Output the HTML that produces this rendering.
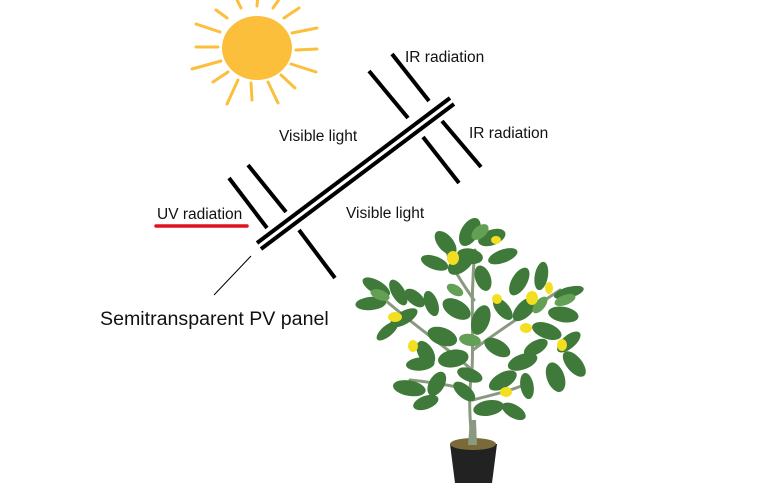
<!DOCTYPE html>
<html><head><meta charset="utf-8"><style>
html,body{margin:0;padding:0;background:#fff;width:784px;height:483px;overflow:hidden}
svg text{font-family:"Liberation Sans",Arial,sans-serif;fill:#111}
</style></head><body>
<svg width="784" height="483" viewBox="0 0 784 483" xmlns="http://www.w3.org/2000/svg">
<!-- sun -->
<g stroke="#fbbf3c" stroke-width="3" stroke-linecap="round" fill="none">
<line x1="257" y1="6" x2="258" y2="-6"/>
<line x1="273" y1="8" x2="280" y2="-2"/>
<line x1="241" y1="8" x2="236" y2="-2"/>
<line x1="284" y1="18" x2="299" y2="8"/>
<line x1="227" y1="18" x2="216" y2="10"/>
<line x1="292" y1="33" x2="317" y2="28"/>
<line x1="220" y1="32" x2="196" y2="24"/>
<line x1="296" y1="50" x2="317" y2="49"/>
<line x1="218" y1="47" x2="196" y2="47"/>
<line x1="291" y1="64" x2="316" y2="72"/>
<line x1="221" y1="61" x2="192" y2="69"/>
<line x1="281" y1="75" x2="295" y2="88"/>
<line x1="228" y1="72" x2="213" y2="82"/>
<line x1="268" y1="82" x2="278" y2="103"/>
<line x1="251" y1="83" x2="252" y2="100"/>
<line x1="238" y1="80" x2="227" y2="104"/>
</g>
<ellipse cx="257" cy="48" rx="35" ry="32" fill="#fbbf3c"/>
<!-- panel -->
<g stroke="#000" stroke-width="4" stroke-linecap="butt">
<line x1="257" y1="243" x2="450" y2="98"/>
<line x1="261" y1="249" x2="454" y2="104"/>
<line x1="229" y1="178" x2="267" y2="228"/>
<line x1="248" y1="165" x2="286" y2="212"/>
<line x1="299" y1="230" x2="335" y2="278"/>
<line x1="369" y1="71" x2="408" y2="118"/>
<line x1="392" y1="54" x2="429" y2="101"/>
<line x1="442" y1="121" x2="481" y2="167"/>
<line x1="423" y1="137" x2="459" y2="183"/>
</g>
<line x1="251" y1="256" x2="214" y2="295" stroke="#000" stroke-width="1"/>
<line x1="156" y1="226" x2="247" y2="226" stroke="#e0141e" stroke-width="3.5" stroke-linecap="round"/>
<text x="405" y="62" font-size="15.5">IR radiation</text>
<text x="469" y="138" font-size="15.5">IR radiation</text>
<text x="279" y="141" font-size="15.5">Visible light</text>
<text x="346" y="218" font-size="15.5">Visible light</text>
<text x="157" y="219" font-size="15.5">UV radiation</text>
<text x="100" y="325" font-size="19.6">Semitransparent PV panel</text>
<!-- plant -->
<g stroke="#8a9a80" stroke-width="3" fill="none" stroke-linecap="round">
<path d="M472 445 C470 420 468 395 472 370 C474 330 470 300 475 250"/>
<path d="M472 370 C450 350 420 330 385 300"/>
<path d="M473 350 C500 330 530 310 560 290"/>
<path d="M474 300 C460 280 450 265 445 245"/>
<path d="M470 390 C450 385 430 382 410 380"/>
<path d="M473 400 C490 395 510 392 530 382"/>
</g>
<g fill="#3f7a3a" transform="translate(472 320) scale(1.1) translate(-472 -320)">
<ellipse cx="470" cy="240" rx="14" ry="8" transform="rotate(-60 470 240)"/>
<ellipse cx="490" cy="245" rx="13" ry="7" transform="rotate(-20 490 245)"/>
<ellipse cx="448" cy="250" rx="13" ry="7" transform="rotate(50 448 250)"/>
<ellipse cx="438" cy="268" rx="13" ry="6" transform="rotate(20 438 268)"/>
<ellipse cx="462" cy="268" rx="14" ry="8" transform="rotate(-40 462 268)"/>
<ellipse cx="500" cy="262" rx="14" ry="6" transform="rotate(-20 500 262)"/>
<ellipse cx="482" cy="282" rx="12" ry="7" transform="rotate(70 482 282)"/>
<ellipse cx="385" cy="290" rx="14" ry="6" transform="rotate(30 385 290)"/>
<ellipse cx="405" cy="295" rx="13" ry="6" transform="rotate(60 405 295)"/>
<ellipse cx="380" cy="305" rx="14" ry="6" transform="rotate(-5 380 305)"/>
<ellipse cx="410" cy="318" rx="14" ry="6" transform="rotate(-30 410 318)"/>
<ellipse cx="395" cy="330" rx="12" ry="5" transform="rotate(-40 395 330)"/>
<ellipse cx="435" cy="305" rx="12" ry="6" transform="rotate(70 435 305)"/>
<ellipse cx="458" cy="310" rx="14" ry="8" transform="rotate(30 458 310)"/>
<ellipse cx="480" cy="320" rx="14" ry="8" transform="rotate(-70 480 320)"/>
<ellipse cx="445" cy="335" rx="14" ry="8" transform="rotate(20 445 335)"/>
<ellipse cx="430" cy="350" rx="12" ry="7" transform="rotate(60 430 350)"/>
<ellipse cx="455" cy="355" rx="14" ry="8" transform="rotate(-10 455 355)"/>
<ellipse cx="515" cy="285" rx="14" ry="7" transform="rotate(-60 515 285)"/>
<ellipse cx="535" cy="280" rx="13" ry="6" transform="rotate(-80 535 280)"/>
<ellipse cx="560" cy="295" rx="14" ry="5" transform="rotate(-15 560 295)"/>
<ellipse cx="555" cy="315" rx="14" ry="7" transform="rotate(10 555 315)"/>
<ellipse cx="520" cy="310" rx="14" ry="7" transform="rotate(-45 520 310)"/>
<ellipse cx="500" cy="310" rx="12" ry="6" transform="rotate(50 500 310)"/>
<ellipse cx="540" cy="330" rx="14" ry="7" transform="rotate(20 540 330)"/>
<ellipse cx="560" cy="340" rx="13" ry="6" transform="rotate(-40 560 340)"/>
<ellipse cx="565" cy="360" rx="14" ry="7" transform="rotate(50 565 360)"/>
<ellipse cx="548" cy="372" rx="14" ry="8" transform="rotate(70 548 372)"/>
<ellipse cx="518" cy="358" rx="14" ry="7" transform="rotate(-20 518 358)"/>
<ellipse cx="495" cy="345" rx="13" ry="7" transform="rotate(30 495 345)"/>
<ellipse cx="500" cy="375" rx="14" ry="7" transform="rotate(-30 500 375)"/>
<ellipse cx="522" cy="380" rx="12" ry="6" transform="rotate(80 522 380)"/>
<ellipse cx="415" cy="382" rx="15" ry="7" transform="rotate(10 415 382)"/>
<ellipse cx="440" cy="378" rx="12" ry="7" transform="rotate(-60 440 378)"/>
<ellipse cx="430" cy="395" rx="12" ry="6" transform="rotate(-20 430 395)"/>
<ellipse cx="487" cy="400" rx="14" ry="7" transform="rotate(-10 487 400)"/>
<ellipse cx="510" cy="403" rx="12" ry="6" transform="rotate(30 510 403)"/>
<ellipse cx="465" cy="385" rx="12" ry="6" transform="rotate(40 465 385)"/>
<ellipse cx="425" cy="360" rx="13" ry="6" transform="rotate(-5 425 360)"/>
<ellipse cx="470" cy="262" rx="12" ry="7" transform="rotate(10 470 262)"/>
<ellipse cx="420" cy="300" rx="11" ry="6" transform="rotate(40 420 300)"/>
<ellipse cx="530" cy="345" rx="12" ry="6" transform="rotate(-30 530 345)"/>
<ellipse cx="470" cy="370" rx="12" ry="6" transform="rotate(20 470 370)"/>
</g>
<g fill="#63a055">
<ellipse cx="480" cy="232" rx="10" ry="6" transform="rotate(-40 480 232)"/>
<ellipse cx="380" cy="295" rx="10" ry="5" transform="rotate(20 380 295)"/>
<ellipse cx="565" cy="300" rx="11" ry="5" transform="rotate(-20 565 300)"/>
<ellipse cx="470" cy="340" rx="11" ry="6" transform="rotate(10 470 340)"/>
<ellipse cx="540" cy="305" rx="10" ry="5" transform="rotate(-50 540 305)"/>
<ellipse cx="455" cy="290" rx="9" ry="5" transform="rotate(30 455 290)"/>
</g>
<g fill="#f2e020">
<ellipse cx="453" cy="258" rx="6" ry="7"/>
<ellipse cx="496" cy="240" rx="5" ry="4"/>
<ellipse cx="395" cy="317" rx="7" ry="5"/>
<ellipse cx="532" cy="298" rx="6" ry="7"/>
<ellipse cx="497" cy="299" rx="5" ry="5"/>
<ellipse cx="549" cy="288" rx="4" ry="6"/>
<ellipse cx="413" cy="346" rx="5" ry="6"/>
<ellipse cx="526" cy="328" rx="6" ry="5"/>
<ellipse cx="562" cy="345" rx="5" ry="6"/>
<ellipse cx="506" cy="392" rx="6" ry="5"/>
</g>
<path d="M450 444 L497 444 L492 483 L455 483 Z" fill="#222"/>
<ellipse cx="473" cy="444" rx="23" ry="6" fill="#7a6a3a"/>
<path d="M468 445 L470 420 L476 420 L477 445 Z" fill="#8a9a80"/>
</svg>
</body></html>
